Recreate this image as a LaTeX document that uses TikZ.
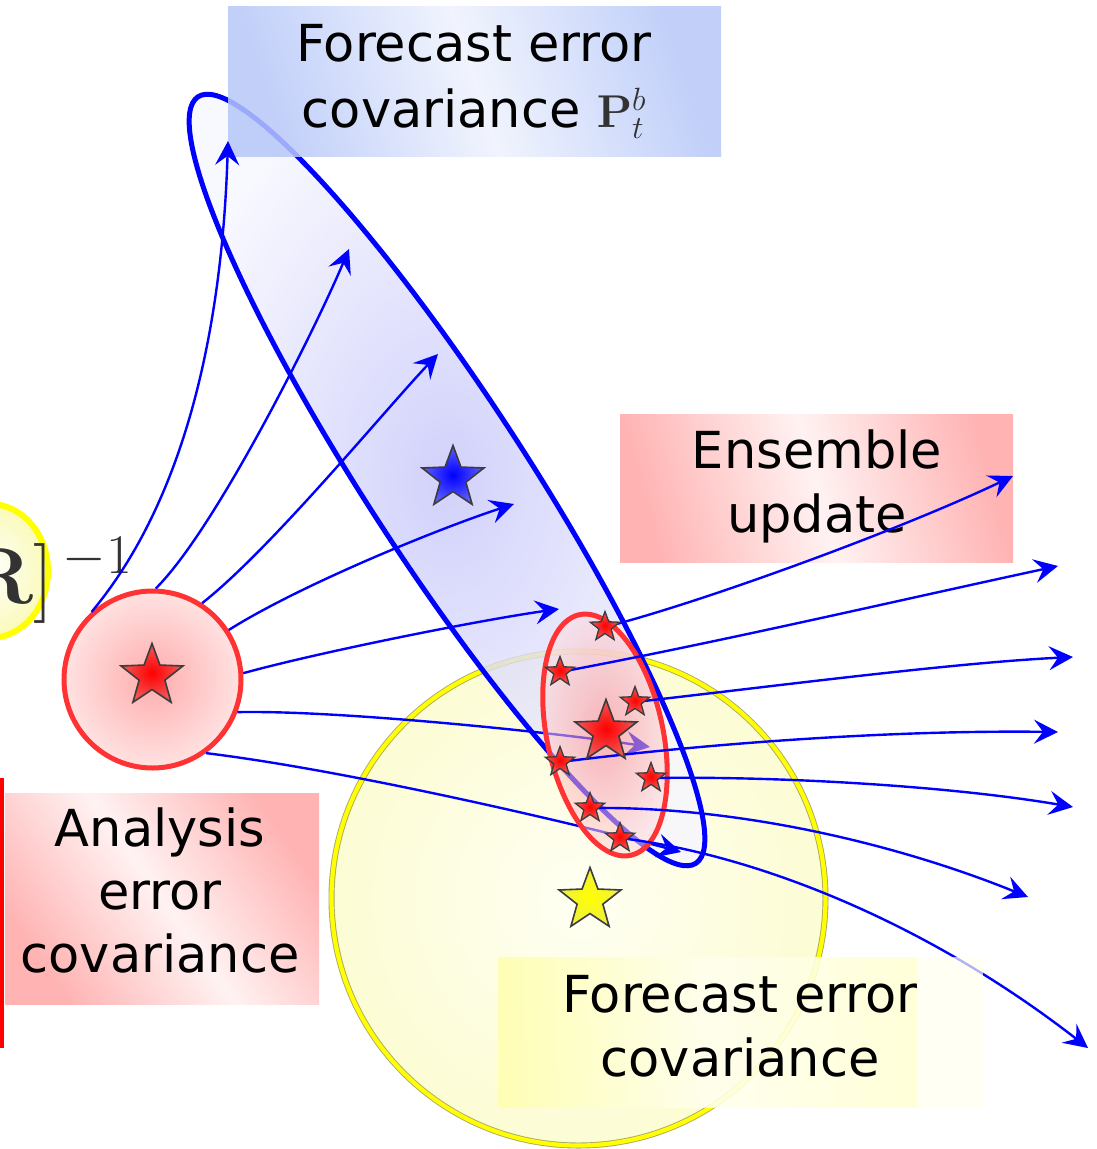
\RequirePackage{fix-cm}
\documentclass[tikz,border=0pt]{standalone}
\usepackage[no-math]{fontspec}
\setmainfont{DejaVu Sans}
\usetikzlibrary{shapes.geometric,arrows.meta}

\definecolor{flowblue}{RGB}{0,0,255}
\definecolor{anred}{RGB}{255,51,51}
\definecolor{starline}{RGB}{60,60,60}
\definecolor{mathgray}{RGB}{51,51,51}
\definecolor{pureyellow}{RGB}{255,255,0}
\definecolor{ringolive}{RGB}{170,170,100}
\definecolor{ycin}{RGB}{255,255,243}
\definecolor{ycout}{RGB}{252,252,212}
\definecolor{ellin}{RGB}{198,198,250}
\definecolor{ellout}{RGB}{246,246,255}
\definecolor{ancin}{RGB}{255,172,172}
\definecolor{ancout}{RGB}{255,226,226}
\definecolor{ensin}{RGB}{255,130,130}
\definecolor{ensout}{RGB}{255,220,222}
\definecolor{boxblue}{RGB}{182,199,248}
\definecolor{boxbluemid}{RGB}{238,242,253}
\definecolor{boxpink}{RGB}{255,166,166}
\definecolor{boxpinkmid}{RGB}{255,240,240}
\definecolor{boxyel}{RGB}{255,255,160}
\definecolor{boxyelmid}{RGB}{255,255,238}
\definecolor{boxyelright}{RGB}{255,255,205}
\definecolor{boxyelpale}{RGB}{255,255,238}
\definecolor{leftyelout}{RGB}{250,250,185}
\definecolor{starred}{RGB}{255,0,0}
\definecolor{starredout}{RGB}{240,90,90}
\definecolor{starblue}{RGB}{0,0,255}
\definecolor{starblueout}{RGB}{95,95,255}
\definecolor{staryel}{RGB}{255,255,0}
\definecolor{staryelout}{RGB}{238,238,70}

\tikzset{
  flow/.style={draw=flowblue, line width=2.4pt,
    -{Stealth[length=24pt,width=24pt,inset=9pt]}},
  starbase/.style={star, star points=5, star point ratio=2.4, inner sep=0pt,
    draw=starline, shade, shading=radial},
  bigstar/.style={starbase, minimum size=65pt, line width=1.6pt},
  smallstar/.style={starbase, minimum size=31pt, line width=1.3pt},
  redfill/.style={inner color=starred, outer color=starredout},
  bluefill/.style={inner color=starblue, outer color=starblueout},
  yelfill/.style={inner color=staryel, outer color=staryelout},
  lbl/.style={align=center, text=black, inner sep=0pt},
  panel/.style={rectangle, inner sep=0pt, shade, fill opacity=0.85},
}

\begin{document}
\begin{tikzpicture}[x=1pt,y=-1pt]
\useasboundingbox (0,0) rectangle (1097,1149);

% edge of a frame on the far left
\draw[draw=red, line width=3.5pt] (2,778) -- (2,1048);

% observation error term on the left
\node[ellipse, minimum width=116pt, minimum height=134pt, inner sep=0pt,
      draw=pureyellow, line width=6pt, shade, inner color=white,
      outer color=leftyelout] (obsell) at (-10,571) {};
\node[anchor=base west, inner sep=0pt, text=mathgray,
      font=\fontsize{80}{96}\selectfont] (rinv) at (-34,603) {$\mathbf{R}]^{\,-1}$};

% forecast error covariance of the free run (yellow disc)
\node[circle, minimum size=494pt, inner sep=0pt, draw=ringolive, line width=0.9pt,
      double=pureyellow, double distance=4.2pt, shade, inner color=ycin,
      outer color=ycout] (ycirc) at (578.5,898.5) {};

% flow-dependent forecast error covariance (blue ellipse)
\node[ellipse, minimum width=914pt, minimum height=160pt, inner sep=0pt,
      rotate=-57, draw=flowblue, line width=5pt, shade, inner color=ellin,
      outer color=ellout, fill opacity=0.8] (fcell) at (447,480) {};

% analysis error covariance (red disc)
\node[circle, minimum size=177pt, inner sep=0pt, draw=anred, line width=5pt,
      shade, inner color=ancin, outer color=ancout] (ancirc) at (152.5,679.5) {};

% label panel at the top
\node[panel, minimum width=493pt, minimum height=150pt, left color=boxblue,
      right color=boxblue, middle color=boxbluemid, shading angle=108]
      (fcbox) at (474.5,81) {};
\node[lbl, font=\fontsize{51}{66}\selectfont] (fctext) at (474,81.5)
  {Forecast error\\covariance {\fontsize{46}{50}\selectfont\color{mathgray}$\mathbf{P}_t^b$}};

% propagation of the analysis spread
\coordinate (t1) at (228,141);
\coordinate (t2) at (349,249);
\coordinate (t3) at (438,354);
\coordinate (t4) at (514,504);
\coordinate (t5) at (559,609);
\coordinate (t6) at (650,747);
\coordinate (t7) at (681,852);
\draw[flow] (ancirc.132) .. controls (185,500) and (222,330) .. (t1);
\draw[flow] (ancirc.88)  .. controls (215,530) and (315,330) .. (t2);
\draw[flow] (ancirc.57)  .. controls (270,550) and (385,410) .. (t3);
\draw[flow] (ancirc.33)  .. controls (300,585) and (440,528) .. (t4);
\draw[flow] (ancirc.4)   .. controls (320,652) and (480,620) .. (t5);
\draw[flow] (ancirc.-21) .. controls (340,710) and (560,733) .. (t6);
\draw[flow] (ancirc.-54) .. controls (360,772) and (600,830) .. (t7);

% ensemble spread (red ellipse)
\node[ellipse, minimum width=116pt, minimum height=246pt, inner sep=0pt,
      rotate=12, draw=anred, line width=5pt, shade, inner color=ensin,
      outer color=ensout, fill opacity=0.55] (ensell) at (605,735) {};

% ensemble update panel
\node[panel, minimum width=393pt, minimum height=148pt, left color=boxpink,
      right color=boxpink, middle color=boxpinkmid, shading angle=105]
      (enbox) at (816.5,488) {};
\node[lbl, font=\fontsize{51}{64}\selectfont] (entext) at (817,486.6)
  {Ensemble\\update};

% ensemble members
\coordinate (e1) at (605,627);
\coordinate (e2) at (560,672);
\coordinate (e3) at (635,702);
\coordinate (e4) at (560,762);
\coordinate (e5) at (651,778);
\coordinate (e6) at (590,808);
\coordinate (e7) at (620,838);

% propagation of the members
\coordinate (u1) at (1013,476);
\coordinate (u2) at (1058,566);
\coordinate (u3) at (1073,657);
\coordinate (u4) at (1058,732);
\coordinate (u5) at (1073,807);
\coordinate (u6) at (1028,897);
\coordinate (u7) at (1088,1048);
\draw[flow] (e1) .. controls (700,603) and (900,530) .. (u1);
\draw[flow] (e2) .. controls (720,642) and (900,600) .. (u2);
\draw[flow] (e3) .. controls (760,688) and (950,663) .. (u3);
\draw[flow] (e4) .. controls (720,742) and (900,730) .. (u4);
\draw[flow] (e5) .. controls (780,776) and (950,786) .. (u5);
\draw[flow] (e6) .. controls (740,806) and (900,845) .. (u6);
\draw[flow] (e7) .. controls (760,855) and (930,925) .. (u7);

% states
\node[bigstar, redfill]  (anstar) at (152,676) {};
\node[bigstar, bluefill] (fcstar) at (453,478) {};
\node[bigstar, yelfill]  (ycstar) at (590,900) {};
\node[bigstar, redfill]  (enmean) at (606,732) {};
\node[smallstar, redfill] (s1) at (e1) {};
\node[smallstar, redfill] (s2) at (e2) {};
\node[smallstar, redfill] (s3) at (e3) {};
\node[smallstar, redfill] (s4) at (e4) {};
\node[smallstar, redfill] (s5) at (e5) {};
\node[smallstar, redfill] (s6) at (e6) {};
\node[smallstar, redfill] (s7) at (e7) {};

% analysis error covariance panel
\node[panel, minimum width=314pt, minimum height=211pt, left color=boxpink,
      right color=boxpink, middle color=boxpinkmid, shading angle=125]
      (anbox) at (162,898.5) {};
\node[lbl, font=\fontsize{51}{63}\selectfont] (antext) at (160,890.6)
  {Analysis\\error\\covariance};

% climatological forecast error covariance panel
\node[rectangle, inner sep=0pt, minimum width=485pt, minimum height=150pt,
      fill=boxyelpale, fill opacity=0.7] (ycboxpale) at (740.5,1032) {};
\node[panel, minimum width=419pt, minimum height=150pt, left color=boxyel,
      right color=boxyelright, middle color=boxyelmid, fill opacity=0.7]
      (ycbox) at (707.5,1032) {};
\node[lbl, font=\fontsize{51}{64}\selectfont] (yctext) at (740,1026.4)
  {Forecast error\\covariance};
\end{tikzpicture}
\end{document}
